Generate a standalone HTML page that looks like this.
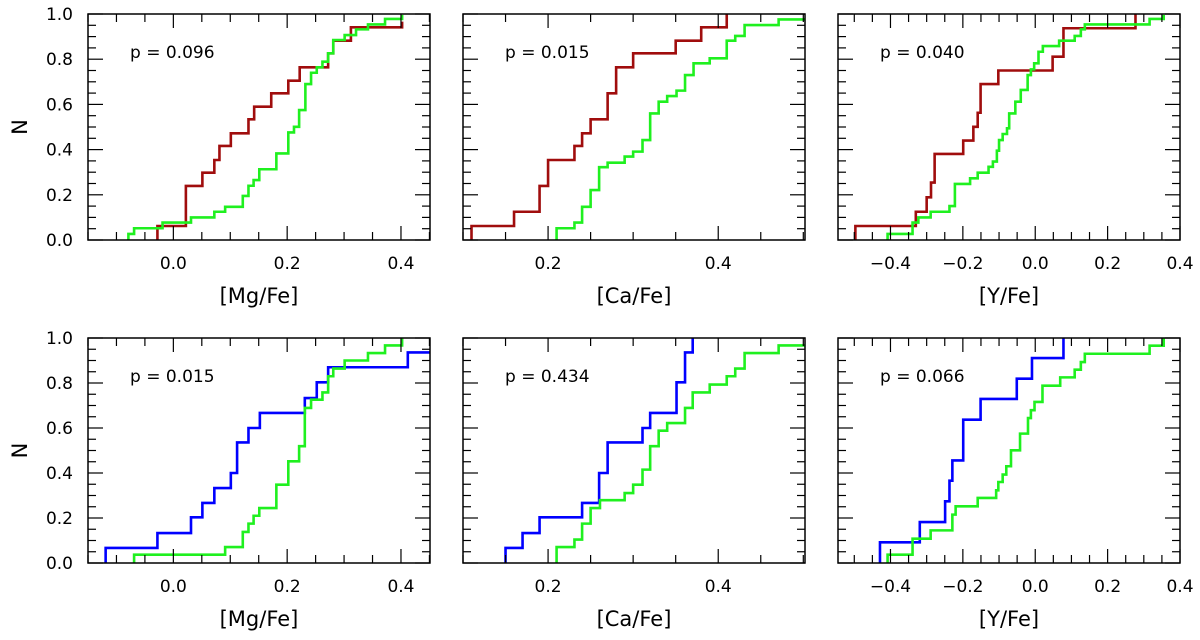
<!DOCTYPE html>
<html><head><meta charset="utf-8"><style>
html,body{margin:0;padding:0;background:#fff;}
svg{display:block;font-family:"DejaVu Sans","Liberation Sans",sans-serif;}
</style></head><body>
<svg id="chart" width="1200" height="640" viewBox="0 0 1200 640" xmlns="http://www.w3.org/2000/svg"></svg>
<script>
// ---- data (x = abundance where step occurs, y = cumulative level after step) ----
const p1RedX=[-0.028,0.022,0.051,0.072,0.081,0.101,0.132,0.142,0.172,0.202,0.222,0.272,0.281,0.312,0.402];
const p1RedY=[0.062,0.239,0.298,0.354,0.416,0.472,0.534,0.59,0.649,0.705,0.764,0.826,0.882,0.941,0.966];
const p1GrnX=[-0.079,-0.069,-0.019,0.031,0.072,0.091,0.122,0.132,0.141,0.151,0.181,0.202,0.212,0.221,0.232,0.242,0.252,0.262,0.272,0.281,0.301,0.321,0.342,0.372,0.402];
const p1GrnY=[0.027,0.052,0.077,0.1,0.125,0.147,0.195,0.24,0.265,0.313,0.383,0.476,0.501,0.575,0.69,0.74,0.764,0.789,0.826,0.885,0.907,0.932,0.954,0.978,0.996];
const p2RedX=[0.110,0.160,0.190,0.200,0.231,0.240,0.250,0.270,0.280,0.300,0.350,0.380,0.410];
const p2RedY=[0.062,0.125,0.239,0.354,0.416,0.472,0.534,0.649,0.764,0.826,0.882,0.941,1.0];
const p2GrnX=[0.210,0.231,0.240,0.250,0.260,0.270,0.290,0.300,0.311,0.320,0.330,0.340,0.351,0.361,0.371,0.390,0.410,0.420,0.431,0.471,0.502];
const p2GrnY=[0.052,0.077,0.147,0.221,0.322,0.342,0.369,0.391,0.442,0.56,0.612,0.637,0.661,0.73,0.782,0.804,0.882,0.903,0.951,0.976,0.976];
const p3RedX=[-0.497,-0.330,-0.300,-0.288,-0.278,-0.199,-0.171,-0.159,-0.151,-0.102,0.048,0.078,0.277];
const p3RedY=[0.062,0.125,0.189,0.254,0.381,0.44,0.501,0.563,0.69,0.75,0.811,0.937,1.0];
const p3GrnX=[-0.408,-0.339,-0.323,-0.289,-0.237,-0.222,-0.180,-0.159,-0.129,-0.117,-0.106,-0.100,-0.090,-0.078,-0.072,-0.055,-0.040,-0.021,-0.012,-0.003,0.009,0.021,0.066,0.109,0.126,0.137,0.316,0.355];
const p3GrnY=[0.027,0.077,0.1,0.125,0.15,0.248,0.273,0.298,0.324,0.347,0.395,0.442,0.469,0.494,0.56,0.612,0.664,0.73,0.755,0.782,0.833,0.858,0.882,0.903,0.932,0.954,0.978,0.996];
const p4BluX=[-0.119,-0.028,0.031,0.051,0.072,0.101,0.112,0.132,0.152,0.231,0.252,0.272,0.412,0.451];
const p4BluY=[0.067,0.133,0.203,0.267,0.333,0.4,0.536,0.6,0.667,0.733,0.803,0.87,0.936,0.936];
const p4GrnX=[-0.069,0.091,0.122,0.132,0.141,0.151,0.181,0.202,0.221,0.231,0.242,0.262,0.272,0.281,0.301,0.342,0.372,0.402];
const p4GrnY=[0.037,0.071,0.138,0.175,0.21,0.244,0.348,0.452,0.519,0.689,0.726,0.758,0.83,0.864,0.9,0.933,0.967,1.0];
const p5BluX=[0.150,0.170,0.190,0.240,0.260,0.270,0.311,0.320,0.351,0.361,0.370];
const p5BluY=[0.067,0.133,0.203,0.267,0.4,0.536,0.6,0.667,0.803,0.936,1.0];
const p5GrnX=[0.210,0.231,0.240,0.250,0.261,0.290,0.300,0.311,0.320,0.330,0.340,0.361,0.370,0.390,0.410,0.420,0.431,0.471,0.502];
const p5GrnY=[0.071,0.104,0.175,0.244,0.279,0.311,0.348,0.415,0.519,0.588,0.622,0.689,0.758,0.793,0.83,0.864,0.933,0.967,0.967];
const p6BluX=[-0.429,-0.319,-0.249,-0.237,-0.229,-0.199,-0.151,-0.051,-0.009,0.078];
const p6BluY=[0.092,0.182,0.274,0.366,0.456,0.637,0.729,0.819,0.911,1.0];
const p6GrnX=[-0.408,-0.339,-0.289,-0.229,-0.220,-0.159,-0.108,-0.102,-0.090,-0.080,-0.067,-0.042,-0.020,-0.012,-0.002,0.020,0.069,0.109,0.126,0.137,0.316,0.355];
const p6GrnY=[0.037,0.108,0.145,0.215,0.252,0.289,0.323,0.36,0.393,0.43,0.501,0.575,0.644,0.679,0.716,0.788,0.825,0.859,0.893,0.93,0.966,1.0];
const pValues=["p = 0.096","p = 0.015","p = 0.040","p = 0.015","p = 0.434","p = 0.066"];
const xLabels=["[Mg/Fe]","[Ca/Fe]","[Y/Fe]"];
const xTicksMg=[0.0,0.2,0.4], xTicksCa=[0.2,0.4], xTicksY=[-0.4,-0.2,0.0,0.2,0.4];
const yTicks=[0.0,0.2,0.4,0.6,0.8,1.0];

const NS="http://www.w3.org/2000/svg";
const svg=document.getElementById('chart');
function mk(tag,attrs,parent){const e=document.createElementNS(NS,tag);for(const k in attrs)e.setAttribute(k,attrs[k]);(parent||svg).appendChild(e);return e;}
const RED="#a00d0d",GRN="#1ff01f",BLU="#0000ff";
const cols=[{x0:88,x1:430,lo:-0.15,hi:0.451,ticks:xTicksMg},{x0:463,x1:805,lo:0.1,hi:0.502,ticks:xTicksCa},{x0:838,x1:1180,lo:-0.545,hi:0.4,ticks:xTicksY}];
const rows=[{y0:14,y1:240},{y0:338,y1:563}];
const panels=[
 [[p1RedX,p1RedY,RED,'red-cdf'],[p1GrnX,p1GrnY,GRN,'green-cdf']],
 [[p2RedX,p2RedY,RED,'red-cdf'],[p2GrnX,p2GrnY,GRN,'green-cdf']],
 [[p3RedX,p3RedY,RED,'red-cdf'],[p3GrnX,p3GrnY,GRN,'green-cdf']],
 [[p4BluX,p4BluY,BLU,'blue-cdf'],[p4GrnX,p4GrnY,GRN,'green-cdf']],
 [[p5BluX,p5BluY,BLU,'blue-cdf'],[p5GrnX,p5GrnY,GRN,'green-cdf']],
 [[p6BluX,p6BluY,BLU,'blue-cdf'],[p6GrnX,p6GrnY,GRN,'green-cdf']]];
function fmt(v){const s=Math.abs(v).toFixed(1);return (v<-1e-9?"\u2212":"")+s;}
for(let r=0;r<2;r++)for(let c=0;c<3;c++){
  const C=cols[c],R=rows[r],idx=r*3+c;
  const g=mk('g',{});
  
  
  const sx=v=>C.x0+(v-C.lo)/(C.hi-C.lo)*(C.x1-C.x0);
  const sy=v=>R.y1-v*(R.y1-R.y0);
  const cid='clip'+idx;
  const cp=mk('clipPath',{id:cid},g);mk('rect',{x:C.x0,y:R.y0-2,width:C.x1-C.x0,height:R.y1-R.y0+2},cp);
  panels[idx].forEach(s=>{
    const xs=s[0],ys=s[1];let d='M'+sx(xs[0])+','+sy(0);
    for(let i=0;i<xs.length;i++){d+=' L'+sx(xs[i])+','+sy(i?ys[i-1]:0)+' L'+sx(xs[i])+','+sy(ys[i]);}
    const p=mk('path',{d:d,fill:'none',stroke:s[2],'stroke-width':2.6,'stroke-linejoin':'miter','clip-path':'url(#'+cid+')'},g);
    
    
  });
  const start=Math.ceil(C.lo/0.05-1e-6);
  for(let k=start;k*0.05<=C.hi+1e-6;k++){
    const v=k*0.05,X=sx(v),major=Math.abs(v*10-Math.round(v*10))<1e-6&&Math.round(v*10)%2===0;
    const L=major?14:8;
    mk('line',{x1:X,y1:R.y1,x2:X,y2:R.y1-L,stroke:'#000','stroke-width':1.2},g);
    mk('line',{x1:X,y1:R.y0,x2:X,y2:R.y0+L,stroke:'#000','stroke-width':1.2},g);
  }
  for(let k=0;k<=20;k++){
    const Y=sy(k*0.05),L=(k%4===0)?15:8;
    mk('line',{x1:C.x0,y1:Y,x2:C.x0+L,y2:Y,stroke:'#000','stroke-width':1.2},g);
    mk('line',{x1:C.x1,y1:Y,x2:C.x1-L,y2:Y,stroke:'#000','stroke-width':1.2},g);
  }
  const fr=mk('rect',{x:C.x0,y:R.y0,width:C.x1-C.x0,height:R.y1-R.y0,fill:'none',stroke:'#000','stroke-width':1.5},g);
  
  
  C.ticks.forEach(v=>{
    const t=mk('text',{x:sx(v),y:R.y1+29,'font-size':17,'text-anchor':'middle'},g);t.textContent=fmt(v);
    
    
  });
  const xl=mk('text',{x:(C.x0+C.x1)/2,y:R.y1+63,'font-size':21,'text-anchor':'middle'},g);xl.textContent=xLabels[c];
  
  
  const pt=mk('text',{x:C.x0+42,y:R.y0+44,'font-size':17},g);pt.textContent=pValues[idx];
  
  
  if(c===0){
    yTicks.forEach(v=>{
      const t=mk('text',{x:C.x0-15,y:sy(v)+6,'font-size':17,'text-anchor':'end'},g);t.textContent=v.toFixed(1);
      
      
    });
    const yc=(R.y0+R.y1)/2;
    const yl=mk('text',{x:27,y:yc,'font-size':21,'text-anchor':'middle',transform:'rotate(-90 27 '+yc+')'},g);yl.textContent='N';
    
    
  }
}
</script>
</body></html>
